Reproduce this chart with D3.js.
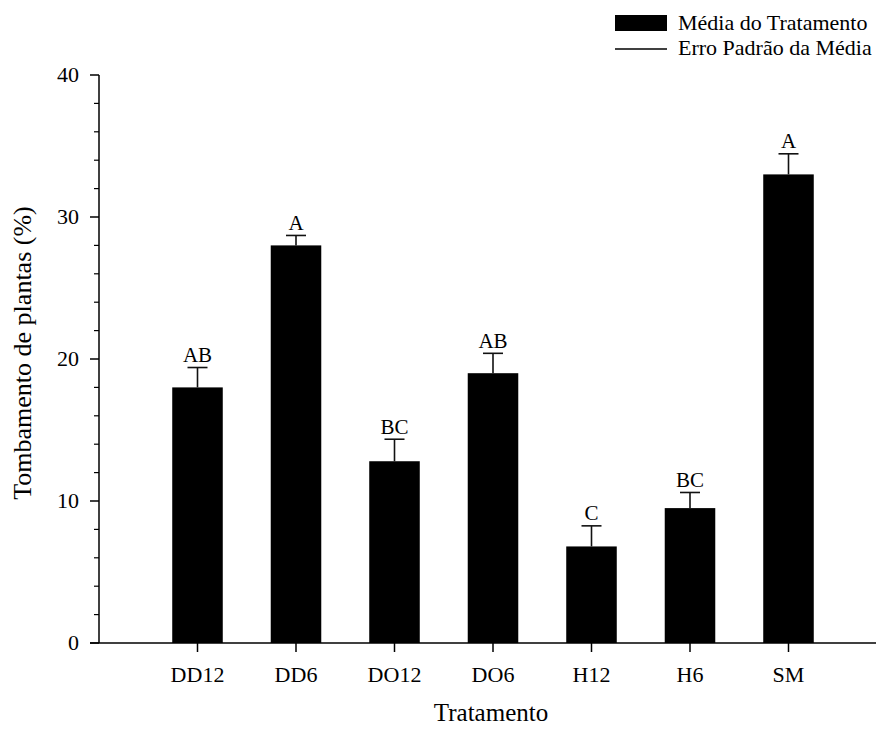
<!DOCTYPE html>
<html>
<head>
<meta charset="utf-8">
<script src="https://cdn.jsdelivr.net/npm/d3@7"></script>
<style>
  html, body { margin: 0; padding: 0; background: #fff; }
  svg text { font-family: "Liberation Serif", "Times New Roman", serif; fill: #000; }
</style>
</head>
<body>
<svg id="chart" width="876" height="734" font-family="Liberation Serif, Times New Roman, serif"></svg>
<script>
// Treatment means and standard errors
const categories = ["DD12", "DD6", "DO12", "DO6", "H12", "H6", "SM"];
const means = [18.0, 28.0, 12.8, 19.0, 6.8, 9.5, 33.0];
const stdErrors = [1.4, 0.7, 1.55, 1.4, 1.45, 1.1, 1.45];
const groupLetters = ["AB", "A", "BC", "AB", "C", "BC", "A"];
const yTicks = [0, 10, 20, 30, 40];
const yMinorTicks = d3.range(0, 41, 2);

const svg = d3.select("#chart");

// Categories sit at positions 1..7 on a 0..8 axis
const x = d3.scaleLinear().domain([0, 8]).range([99, 887]);
const y = d3.scaleLinear().domain([0, 40]).range([643, 75]);
const barW = x(0.513) - x(0);
const capW = 20;

const data = categories.map((c, i) => ({
  name: c, pos: i + 1, mean: means[i], se: stdErrors[i], letter: groupLetters[i]
}));

// Bars
svg.append("g").selectAll("rect").data(data).join("rect")
  .attr("x", d => x(d.pos) - barW / 2)
  .attr("y", d => y(d.mean))
  .attr("width", barW)
  .attr("height", d => y(0) - y(d.mean))
  .attr("fill", "#000");

// Upper error bars
const err = svg.append("g").attr("stroke", "#111").attr("stroke-width", 1.6);
err.selectAll("line.v").data(data).join("line").attr("class", "v")
  .attr("x1", d => x(d.pos)).attr("x2", d => x(d.pos))
  .attr("y1", d => y(d.mean)).attr("y2", d => y(d.mean + d.se));
err.selectAll("line.c").data(data).join("line").attr("class", "c")
  .attr("x1", d => x(d.pos) - capW / 2).attr("x2", d => x(d.pos) + capW / 2)
  .attr("y1", d => y(d.mean + d.se)).attr("y2", d => y(d.mean + d.se));

// Significance letters
svg.append("g").selectAll("text").data(data).join("text")
  .attr("x", d => x(d.pos))
  .attr("y", d => y(d.mean + d.se) - 5.5)
  .attr("text-anchor", "middle")
  .attr("font-size", 21)
  .text(d => d.letter);

// Y axis
const yAxis = svg.append("g");
yAxis.append("line")
  .attr("x1", 99).attr("x2", 99).attr("y1", y(40)).attr("y2", y(0))
  .attr("stroke", "#000").attr("stroke-width", 1.5);
yAxis.selectAll("line.minor").data(yMinorTicks.filter(v => v % 10 !== 0)).join("line")
  .attr("class", "minor")
  .attr("x1", 94).attr("x2", 99).attr("y1", d => y(d)).attr("y2", d => y(d))
  .attr("stroke", "#000").attr("stroke-width", 1.2);
yAxis.selectAll("line.major").data(yTicks).join("line")
  .attr("class", "major")
  .attr("x1", 90).attr("x2", 99).attr("y1", d => y(d)).attr("y2", d => y(d))
  .attr("stroke", "#000").attr("stroke-width", 1.5);
yAxis.selectAll("text").data(yTicks).join("text")
  .attr("x", 79).attr("y", d => y(d))
  .attr("dy", "0.34em")
  .attr("text-anchor", "end")
  .attr("font-size", 22)
  .text(d => d);

// X axis
const xAxis = svg.append("g");
xAxis.append("line")
  .attr("x1", 90).attr("x2", x(8)).attr("y1", y(0)).attr("y2", y(0))
  .attr("stroke", "#000").attr("stroke-width", 1.5);
xAxis.selectAll("line.tick").data(data).join("line")
  .attr("class", "tick")
  .attr("x1", d => x(d.pos)).attr("x2", d => x(d.pos))
  .attr("y1", y(0)).attr("y2", y(0) + 9)
  .attr("stroke", "#000").attr("stroke-width", 1.5);
xAxis.selectAll("text").data(data).join("text")
  .attr("x", d => x(d.pos)).attr("y", 682)
  .attr("text-anchor", "middle")
  .attr("font-size", 22)
  .text(d => d.name);

// Axis titles
svg.append("text")
  .attr("x", x(4) - 2).attr("y", 721)
  .attr("text-anchor", "middle")
  .attr("font-size", 25)
  .text("Tratamento");
svg.append("text")
  .attr("transform", `translate(31,${(y(0) + y(40)) / 2 - 6}) rotate(-90)`)
  .attr("text-anchor", "middle")
  .attr("font-size", 26)
  .text("Tombamento de plantas (%)");

// Legend
const legend = svg.append("g");
legend.append("rect")
  .attr("x", 615).attr("y", 15).attr("width", 52).attr("height", 16)
  .attr("fill", "#000");
legend.append("line")
  .attr("x1", 615).attr("x2", 667).attr("y1", 49).attr("y2", 49)
  .attr("stroke", "#000").attr("stroke-width", 1.5);
legend.append("text").attr("x", 678).attr("y", 30).attr("font-size", 22)
  .text("Média do Tratamento");
legend.append("text").attr("x", 678).attr("y", 55).attr("font-size", 22)
  .text("Erro Padrão da Média");
</script>
</body>
</html>
